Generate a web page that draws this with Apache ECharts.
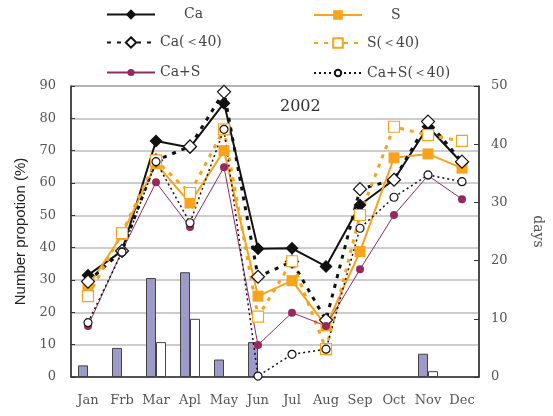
<!DOCTYPE html>
<html>
<head>
<meta charset="utf-8">
<script src="https://cdn.jsdelivr.net/npm/echarts@6/dist/echarts.min.js"></script>
<style>
  html, body { margin: 0; padding: 0; background: #fff; }
  .chart { width: 553px; height: 416px; }
</style>
</head>
<body>
<div class="chart"></div>
<script>
const months = ['Jan', 'Frb', 'Mar', 'Apl', 'May', 'Jun', 'Jul', 'Aug', 'Sep', 'Oct', 'Nov', 'Dec'];

// number proportion (%)
const ca = [31.5, 39, 73, 71, 84.7, 39.7, 39.8, 34.2, 53.2, 61, 77.4, 66.2];
const caUnder40 = [29.5, 39, 67, 71.3, 88.2, 31, 35.7, 17.6, 58.1, 61, 79, 66.6];
const s = [28, 44, 66, 53.8, 70, 25, 29.8, 15.8, 38.8, 67.8, 69, 64.6];
const sUnder40 = [25, 44.5, 67, 56.9, 76.6, 18.7, 35.8, 8.6, 50.1, 77.4, 74.8, 73];
const caS = [15.8, 39, 60.2, 46.4, 64.9, 9.9, 19.9, 15.8, 33.3, 50.1, 62.3, 55];
const caSUnder40 = [16.8, 38.6, 66.6, 47.7, 76.6, 0.3, 7, 8.6, 46, 55.6, 62.5, 60.4];

// days
const daysAll = [2, 5, 17, 18, 3, 6, null, null, null, null, 4, null];
const daysUnder40 = [null, null, 6, 10, null, null, null, null, null, null, 1, null];

const serif = 'DejaVu Serif';
const orange = '#f8a31b';
const plum = '#97285f';

function legendAt(name, left, top, size, textPad) {
  return {
    data: [name],
    left: left,
    top: top - size / 2,
    padding: 0,
    itemWidth: 48,
    itemHeight: size,
    textStyle: { fontFamily: serif, fontSize: 14, color: '#444', padding: [0, 0, 0, textPad || 0] }
  };
}

function lineSeries(name, data, opts) {
  return Object.assign({
    name: name,
    type: 'line',
    yAxisIndex: 0,
    data: data
  }, opts);
}

const chart = echarts.init(document.getElementsByClassName('chart')[0]);

chart.setOption({
  animation: false,
  title: {
    text: '2002',
    left: 275,
    top: 94,
    textStyle: { fontFamily: serif, fontSize: 16, fontWeight: 'normal', color: '#333' }
  },
  legend: [
    legendAt('Ca', 106, 14, 13, 24),
    legendAt('S', 313, 14, 12, 24),
    legendAt('Ca(＜40)', 106, 42, 13),
    legendAt('S(＜40)', 313, 42, 12),
    legendAt('Ca+S', 106, 70, 9),
    legendAt('Ca+S(＜40)', 313, 70, 8)
  ],
  grid: {
    left: 71, right: 74, top: 86, bottom: 39,
    show: true, borderColor: '#333', borderWidth: 1
  },
  xAxis: {
    type: 'category',
    data: months,
    boundaryGap: true,
    axisLine: { lineStyle: { color: '#333', width: 1.5 } },
    axisTick: { inside: true, length: 5, lineStyle: { color: '#333' } },
    axisLabel: { interval: 0, fontFamily: serif, fontSize: 13, color: '#555', margin: 17 }
  },
  yAxis: [
    {
      type: 'value',
      min: 0, max: 90, interval: 10,
      name: 'Number propotion (%)',
      nameLocation: 'middle',
      nameGap: 42,
      nameTextStyle: { fontFamily: 'Liberation Sans', fontSize: 15, color: '#222' },
      axisLine: { show: true, lineStyle: { color: '#333', width: 1.5 } },
      axisTick: { show: true, inside: true, length: 4, lineStyle: { color: '#333' } },
      axisLabel: { fontFamily: serif, fontSize: 13, color: '#555', margin: 15 },
      splitLine: { lineStyle: { color: '#bcbcbc', width: 1.5 } }
    },
    {
      type: 'value',
      min: 0, max: 50, interval: 10,
      name: 'days',
      nameLocation: 'middle',
      nameGap: 52,
      nameRotate: -90,
      nameTextStyle: { fontFamily: serif, fontSize: 14, color: '#555' },
      axisLine: { show: true, lineStyle: { color: '#333', width: 1.5 } },
      axisTick: { show: true, inside: true, length: 5, lineStyle: { color: '#333' } },
      axisLabel: { fontFamily: serif, fontSize: 13, color: '#555', margin: 12 },
      splitLine: { show: false }
    }
  ],
  series: [
    {
      type: 'bar',
      yAxisIndex: 1,
      data: daysAll,
      barWidth: 10,
      barGap: '0%',
      itemStyle: { color: '#9e99cb', borderColor: '#444', borderWidth: 1 }
    },
    {
      type: 'bar',
      yAxisIndex: 1,
      data: daysUnder40,
      barWidth: 10,
      barGap: '0%',
      itemStyle: { color: '#fff', borderColor: '#444', borderWidth: 1 }
    },
    lineSeries('Ca', ca, {
      symbol: 'diamond', symbolSize: 13,
      lineStyle: { color: '#111', width: 2 },
      itemStyle: { color: '#111' }
    }),
    lineSeries('S', s, {
      symbol: 'rect', symbolSize: 11,
      lineStyle: { color: orange, width: 2 },
      itemStyle: { color: orange }
    }),
    lineSeries('Ca(＜40)', caUnder40, {
      symbol: 'diamond', symbolSize: 13,
      lineStyle: { color: '#111', width: 3, type: [4, 6] },
      itemStyle: { color: '#fff', borderColor: '#111', borderWidth: 1.2 }
    }),
    lineSeries('S(＜40)', sUnder40, {
      symbol: 'rect', symbolSize: 11,
      lineStyle: { color: orange, width: 3, type: [4, 6] },
      itemStyle: { color: '#fff', borderColor: orange, borderWidth: 1.2 }
    }),
    lineSeries('Ca+S', caS, {
      symbol: 'circle', symbolSize: 8,
      lineStyle: { color: plum, width: 1 },
      itemStyle: { color: plum }
    }),
    lineSeries('Ca+S(＜40)', caSUnder40, {
      symbol: 'circle', symbolSize: 8,
      lineStyle: { color: '#111', width: 1.5, type: [2, 3] },
      itemStyle: { color: '#fff', borderColor: '#111', borderWidth: 1.2 }
    })
  ]
});

window.addEventListener('resize', chart.resize);
</script>
</body>
</html>
